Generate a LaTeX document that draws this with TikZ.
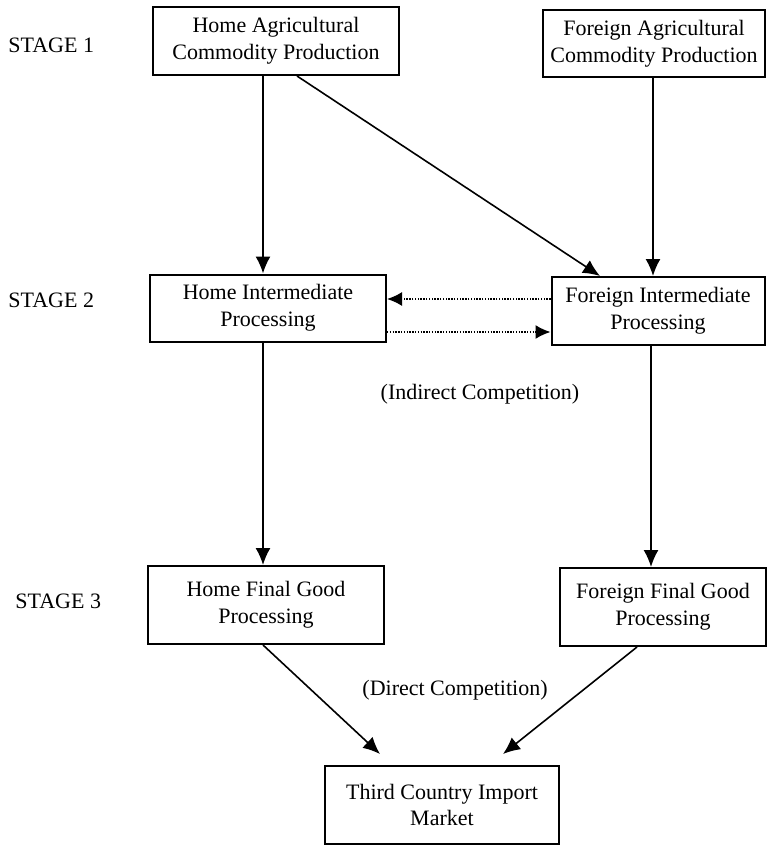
\documentclass[tikz,border=0pt]{standalone}
\usepackage{fontspec}
\setmainfont{Liberation Serif}
\usetikzlibrary{arrows.meta}
\tikzset{
  stagebox/.style={draw, line width=1pt, align=center, inner sep=2pt,
    font=\fontsize{11}{13.3}\selectfont},
  stagelabel/.style={anchor=west, inner sep=0pt, font=\fontsize{11}{13.3}\selectfont},
  flow/.style={line width=0.8pt, -{Latex[length=8.5pt,width=7.5pt]}},
  trade/.style={line width=0.8pt, dash pattern=on 0.7pt off 0.7pt,
    -{Latex[length=7.5pt,width=7pt]}},
}

\begin{document}
\begin{tikzpicture}[x=0.5pt,y=-0.5pt]
            \useasboundingbox (0,0) rectangle (767,845);

            % Stages
            \node[stagelabel] (s1) at (8,45)  {STAGE 1};
            \node[stagelabel] (s2) at (8,300) {STAGE 2};
            \node[stagelabel] (s3) at (15,601) {STAGE 3};

            % Boxes
            \node[stagebox, minimum width=123pt, minimum height=34pt] (hag) at (276,41)
                {Home Agricultural\\Commodity Production};
            \node[stagebox, minimum width=111pt, minimum height=33.5pt] (fag) at (654,43.5)
                {Foreign Agricultural\\Commodity Production};
            \node[stagebox, minimum width=118pt, minimum height=33.5pt] (hint) at (268,308)
                {Home Intermediate\\Processing};
            \node[stagebox, minimum width=106.5pt, minimum height=34pt] (fint) at (658,311)
                {Foreign Intermediate\\Processing};
            \node[stagebox, minimum width=118pt, minimum height=39pt] (hfin) at (266,605)
                {Home Final Good\\Processing};
            \node[stagebox, minimum width=103pt, minimum height=39pt] (ffin) at (663,607)
                {Foreign Final Good\\Processing};
            \node[stagebox, minimum width=117pt, minimum height=39pt] (third) at (442,805)
                {Third Country Import\\Market};

            % Competition labels
            \node[stagelabel, anchor=center] (indirect) at (480,394) {(Indirect Competition)};
            \node[stagelabel, anchor=center] (direct) at (455,690) {(Direct Competition)};

            % Arrows
            \draw[flow] ([xshift=-2.5pt]hint.north |- hag.south) -- ([xshift=-2.5pt]hint.north);
            \draw[flow] ([xshift=10.5pt]hag.south) -- ([xshift=-29pt]fint.north);
            \draw[flow] ([xshift=-0.5pt]fag.south) -- ([xshift=-0.5pt]fag.south |- fint.north);
            \draw[flow] ([xshift=-2.5pt]hint.south) -- ([xshift=-2.5pt]hint.south |- hfin.north);
            \draw[flow] ([xshift=-3.5pt]fint.south) -- ([xshift=-3.5pt]fint.south |- ffin.north);
            \draw[flow] ([xshift=-1.5pt]hfin.south) -- ([xshift=-31pt,yshift=5.5pt]third.north);
            \draw[flow] ([xshift=-13pt]ffin.south) -- ([xshift=30.5pt,yshift=5.5pt]third.north);

            % Dotted
            \draw[trade] ([yshift=6pt]fint.west) -- ([yshift=6pt]fint.west -| hint.east);
            \draw[trade] ([yshift=-12pt]hint.east) -- ([yshift=-12pt]hint.east -| fint.west);
\end{tikzpicture}
\end{document}
